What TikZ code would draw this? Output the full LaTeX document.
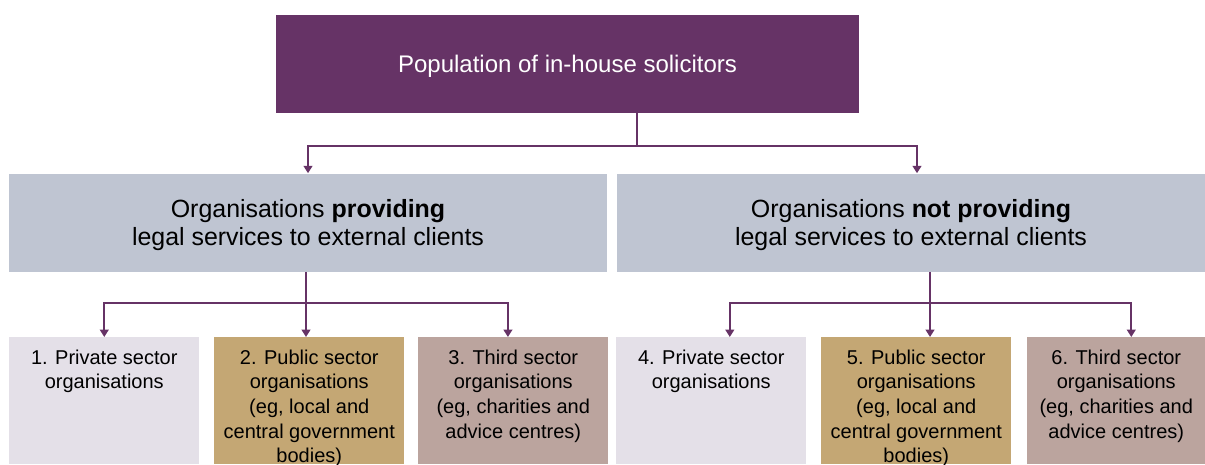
\documentclass[tikz,border=0pt]{standalone}
\usepackage{fontspec}
\setmainfont{Liberation Sans}
\usepackage{xcolor}
\usetikzlibrary{arrows.meta,positioning,calc}

\definecolor{solpurple}{RGB}{102,51,102}
\definecolor{groupgrey}{RGB}{191,197,210}
\definecolor{privlav}{RGB}{228,224,232}
\definecolor{pubtan}{RGB}{196,167,116}
\definecolor{thirdmauve}{RGB}{187,164,158}

\tikzset{
  topbox/.style={fill=solpurple, text=white, minimum width=437.25pt, minimum height=73.5pt,
    inner sep=0pt, text height=13.1pt, text depth=1.1pt, font=\fontsize{18}{21}\selectfont},
  groupbox/.style={fill=groupgrey, minimum height=73.5pt, inner sep=0pt, align=center,
    text height=35pt, text depth=1.2pt, font=\fontsize{18.7}{21}\selectfont},
  sectorbox/.style={minimum width=142.5pt, minimum height=95.25pt, inner sep=0pt, anchor=north west},
  sectortext/.style={anchor=north, align=center, inner sep=0pt, yshift=-9.5pt,
    font=\fontsize{15}{18.4}\selectfont},
  link/.style={solpurple, line width=1.5pt},
  arr/.style={link, -{Triangle[width=6.5pt,length=5.5pt]}}
}

\begin{document}
\begin{tikzpicture}[x=0.75pt, y=-0.75pt]
\useasboundingbox (0,0) rectangle (1205,464);

% Population
\node[topbox] (pop) at (567.5,64) {Population of in-house solicitors};

% Two groups of organisations
\node[groupbox, minimum width=448.5pt] (prov) at (308,222.5)
  {Organisations \textbf{providing}\\legal services to external clients};
\node[groupbox, minimum width=441pt] (notprov) at (911,222.5)
  {Organisations \textbf{not providing}\\legal services to external clients};

% Sector boxes
\node[sectorbox, fill=privlav] (s1) at (9,337) {};
\node[sectorbox, fill=pubtan] (s2) at (214,337) {};
\node[sectorbox, fill=thirdmauve] (s3) at (418,337) {};
\node[sectorbox, fill=privlav] (s4) at (616,337) {};
\node[sectorbox, fill=pubtan] (s5) at (821,337) {};
\node[sectorbox, fill=thirdmauve, minimum width=133.5pt] (s6) at (1027,337) {};

\node[sectortext] (t1) at (s1.north) {1. Private sector\\organisations};
\node[sectortext] (t2) at (s2.north) {2. Public sector\\organisations\\(eg, local and\\central government\\bodies)};
\node[sectortext] (t3) at (s3.north) {3. Third sector\\organisations\\(eg, charities and\\advice centres)};
\node[sectortext] (t4) at (s4.north) {4. Private sector\\organisations};
\node[sectortext] (t5) at (s5.north) {5. Public sector\\organisations\\(eg, local and\\central government\\bodies)};
\node[sectortext] (t6) at (s6.north) {6. Third sector\\organisations\\(eg, charities and\\advice centres)};

% Connectors from the population
\coordinate (popsplit) at (637,146);
\draw[link] (pop.south -| popsplit) -- (popsplit);
\draw[arr] (popsplit) -| (prov.north);
\draw[arr] (popsplit) -| ([xshift=4.5pt]notprov.north);

% Connectors to the sectors
\coordinate (provsplit) at (306,303);
\draw[link] (prov.south -| provsplit) -- (provsplit);
\draw[arr] (provsplit) -| (s1.north);
\draw[arr] (provsplit) -- (s2.north -| provsplit);
\draw[arr] (provsplit) -| ([xshift=-4pt]s3.north);

\coordinate (notsplit) at (930,303);
\draw[link] (notprov.south -| notsplit) -- (notsplit);
\draw[arr] (notsplit) -| ([xshift=13.9pt]s4.north);
\draw[arr] (notsplit) -- (s5.north -| notsplit);
\draw[arr] (notsplit) -| ([xshift=11.25pt]s6.north);

\end{tikzpicture}
\end{document}
